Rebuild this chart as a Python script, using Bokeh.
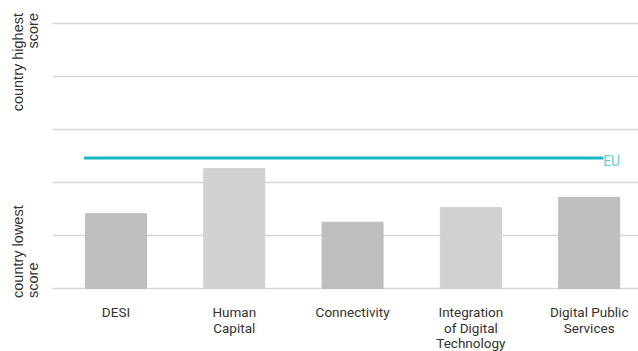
import math
from bokeh.plotting import figure
from bokeh.models import Label, ColumnDataSource, Range1d
from bokeh.core.properties import value
from bokeh.embed import file_html
from bokeh.resources import INLINE

# ---- data ----
categories = ["DESI", "Human\nCapital", "Connectivity",
              "Integration\nof Digital\nTechnology", "Digital Public\nServices"]
values = [1.41, 2.26, 1.25, 1.53, 1.72]
bar_colors = ["#bdbebf", "#d0d1d3", "#bdbebf", "#d0d1d3", "#bdbebf"]
eu_value = 2.46
eu_label = "EU"
grid_ticks = [0, 1, 2, 3, 4, 5]
low_label = "country lowest\nscore"
high_label = "country highest\nscore"

xs = list(range(len(categories)))
src = ColumnDataSource(dict(x=xs, top=values, color=bar_colors, label=categories))

X0, X1 = -0.976, 4.417
Y0, Y1 = -1.189, 5.434
p = figure(width=638, height=351, output_backend="svg", toolbar_location=None,
           x_range=Range1d(X0, X1), y_range=Range1d(Y0, Y1),
           min_border=0, min_border_left=0, min_border_right=0,
           min_border_top=0, min_border_bottom=0)
p.outline_line_color = None
p.background_fill_color = "white"
p.axis.visible = False
p.grid.visible = False

# horizontal grid lines (from the plot-area left edge to the right)
GRID_LEFT = -0.537
p.segment(x0=[GRID_LEFT] * len(grid_ticks), x1=[X1] * len(grid_ticks),
          y0=grid_ticks, y1=grid_ticks, line_color="#d6d6d6", line_width=1.5)

p.vbar(x="x", top="top", bottom=0, width=0.516, color="color", source=src)

# EU reference line
p.line(x=[-0.27, 4.121], y=[eu_value, eu_value], line_color="#17b9c4", line_width=3)
p.add_layout(Label(x=4.118, y=eu_value - 0.05, text=eu_label, text_color="#5ccfd7",
                   text_font="Roboto", text_font_size="14px",
                   text_align="left", text_baseline="middle"))

# category labels (x axis)
p.text(x="x", y=-0.30, text="label", source=src, text_align="center",
       text_baseline="top", text_font=value("Roboto"), text_font_size="13.5px",
       text_color="#333333", text_line_height=0.95)

# vertical axis end labels
p.add_layout(Label(x=-0.892, y=5.198, text=high_label, angle=math.pi / 2,
                   text_align="right", text_baseline="top",
                   text_font="Liberation Sans", text_font_size="14.5px",
                   text_color="#333333", text_line_height=0.93))
p.add_layout(Label(x=-0.892, y=-0.179, text=low_label, angle=math.pi / 2,
                   text_align="left", text_baseline="top",
                   text_font="Liberation Sans", text_font_size="14.5px",
                   text_color="#333333", text_line_height=0.93))

open("out.html", "w").write(file_html(p, INLINE))
